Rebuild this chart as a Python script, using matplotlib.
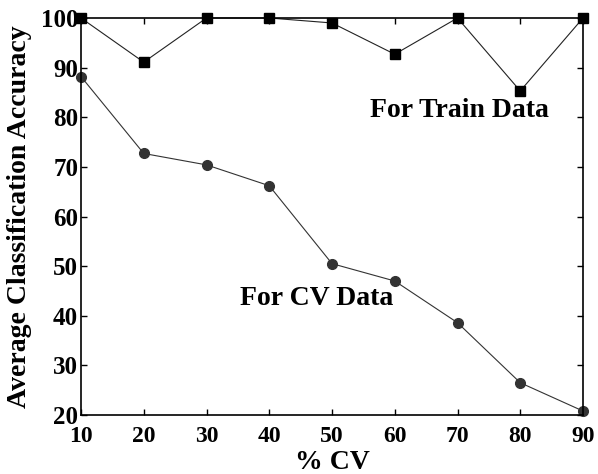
import matplotlib.pyplot as plt

cv_percent = [10, 20, 30, 40, 50, 60, 70, 80, 90]
train_acc = [100, 91.1, 100, 100, 99.0, 92.7, 100, 85.3, 100]
cv_acc = [88.2, 72.7, 70.4, 66.2, 50.5, 47.0, 38.6, 26.5, 20.8]
x_ticks = [10, 20, 30, 40, 50, 60, 70, 80, 90]
y_ticks = [20, 30, 40, 50, 60, 70, 80, 90, 100]

plt.rcParams['font.family'] = ['Liberation Serif', 'DejaVu Serif']
plt.rcParams['font.weight'] = 'bold'

fig = plt.figure(figsize=(5.98, 4.74), dpi=100)
ax = fig.add_axes([81 / 598, 1 - 415 / 474, (583 - 81) / 598, (415 - 18) / 474])

# train data (squares) and cv data (circles)
ax.plot(cv_percent, train_acc, color='#222222', linewidth=0.8, marker='s',
        markersize=7, markerfacecolor='black', markeredgecolor='black', clip_on=False)
ax.plot(cv_percent, cv_acc, color='#333333', linewidth=0.8, marker='o',
        markersize=7, markerfacecolor='#333333', markeredgecolor='#333333', clip_on=False)

ax.set_xlim(10, 90)
ax.set_ylim(20, 100)
ax.set_xticks(x_ticks)
ax.set_yticks(y_ticks)
ax.tick_params(direction='in', length=4, width=1, top=True, right=True)
ax.tick_params(axis='x', labelsize=17, pad=8)
ax.tick_params(axis='y', labelsize=18, pad=2)
for lbl in ax.get_xticklabels() + ax.get_yticklabels():
    lbl.set_fontweight('bold')
for sp in ax.spines.values():
    sp.set_linewidth(1.2)

ax.set_xlabel('% CV', fontsize=20, fontweight='bold', labelpad=2)
ax.set_ylabel('Average Classification Accuracy', fontsize=20, fontweight='bold', labelpad=6)

ax.text(56.0, 80.0, 'For Train Data', fontsize=20, fontweight='bold')
ax.text(35.3, 42.2, 'For CV Data', fontsize=20, fontweight='bold')

fig.savefig('out.png', dpi=100)
